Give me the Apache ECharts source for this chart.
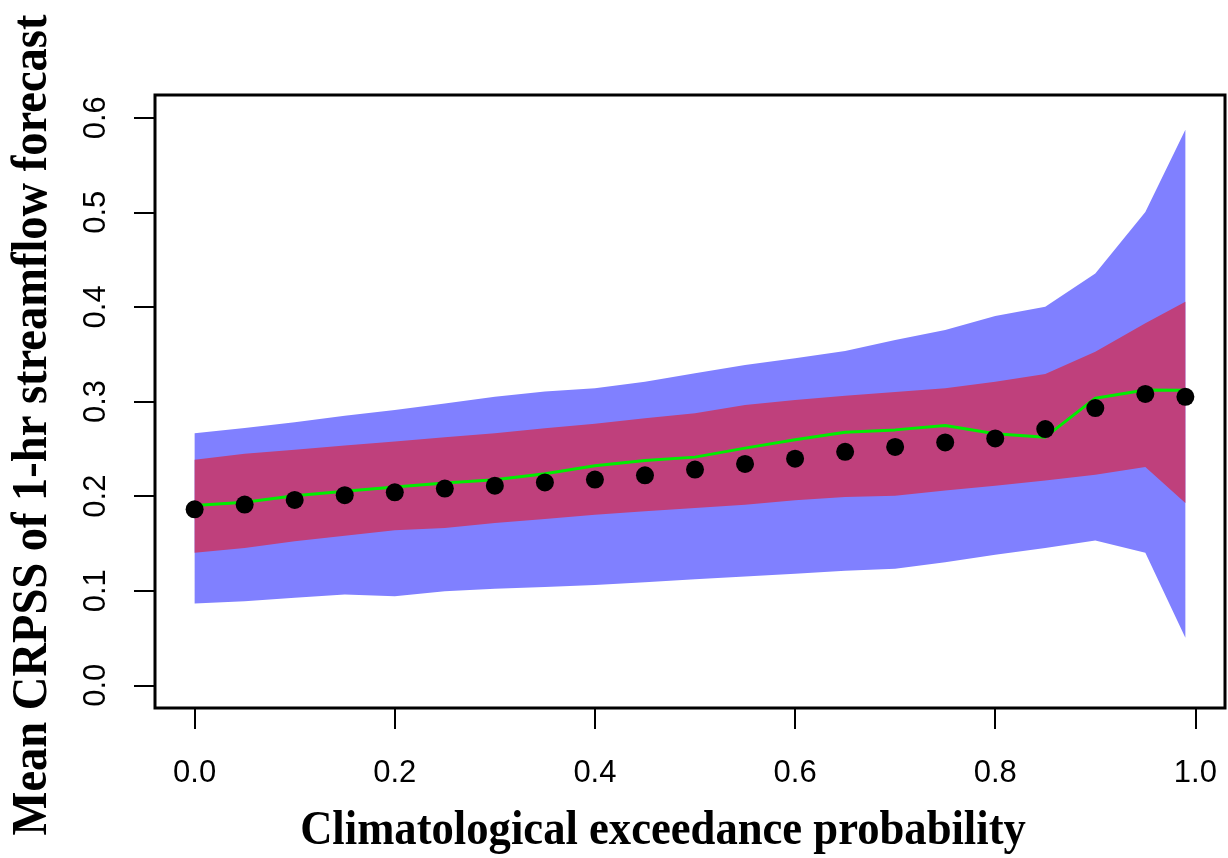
<!DOCTYPE html>
<html>
<head>
<meta charset="utf-8">
<script src="https://cdn.jsdelivr.net/npm/echarts@6/dist/echarts.min.js"></script>
<style>
  html, body { margin: 0; padding: 0; background: #fff; }
  #chart { width: 1228px; height: 858px; }
</style>
</head>
<body>
<div id="chart"></div>
<script>
// Climatological exceedance probabilities (x positions of each summary point)
const exceedance = [0, 0.05, 0.1, 0.15, 0.2, 0.25, 0.3, 0.35, 0.4, 0.45, 0.5,
                    0.55, 0.6, 0.65, 0.7, 0.75, 0.8, 0.85, 0.9, 0.95, 0.99];
// Mean CRPSS (black dots)
const meanCrpss = [0.186, 0.191, 0.196, 0.201, 0.204, 0.208, 0.211, 0.2145, 0.2175, 0.222, 0.228,
                   0.234, 0.2395, 0.2468, 0.252, 0.2567, 0.261, 0.2708, 0.293, 0.308, 0.305];
// Reference curve (green line)
const refCrpss = [0.190, 0.1934, 0.2004, 0.205, 0.2096, 0.2138, 0.2173, 0.2236, 0.232, 0.2377, 0.2412,
                  0.2507, 0.2595, 0.2676, 0.270, 0.2746, 0.2658, 0.2623, 0.3035, 0.3122, 0.312];
// Outer uncertainty band (blue)
const outerUpper = [0.2665, 0.272, 0.278, 0.285, 0.291, 0.298, 0.305, 0.3105, 0.314, 0.321, 0.3298,
                    0.3386, 0.3457, 0.3534, 0.365, 0.3755, 0.3903, 0.4001, 0.4353, 0.5003, 0.5872];
const outerLower = [0.0865, 0.0889, 0.0925, 0.096, 0.0942, 0.0995, 0.102, 0.104, 0.106, 0.109, 0.112,
                    0.115, 0.118, 0.121, 0.1231, 0.130, 0.138, 0.1452, 0.153, 0.140, 0.0503];
// Inner uncertainty band (red)
const innerUpper = [0.2384, 0.2447, 0.249, 0.2535, 0.2577, 0.2623, 0.2665, 0.2718, 0.2764, 0.2824, 0.2876,
                    0.2964, 0.3017, 0.306, 0.310, 0.314, 0.321, 0.329, 0.3527, 0.3826, 0.4054];
const innerLower = [0.140, 0.1452, 0.1522, 0.1582, 0.1638, 0.1663, 0.1716, 0.1758, 0.1804, 0.1839, 0.1874,
                    0.1909, 0.1955, 0.199, 0.2004, 0.206, 0.211, 0.2166, 0.2226, 0.2307, 0.1927];
// Tick positions
const xTicks = [0, 0.2, 0.4, 0.6, 0.8, 1.0];
const yTicks = [0, 0.1, 0.2, 0.3, 0.4, 0.5, 0.6];

const xTitle = 'Climatological exceedance probability';
const yTitle = 'Mean CRPSS of 1-hr streamflow forecast';

// Band rows: [x, lower, upper]
function bandRows(lower, upper) {
  return exceedance.map((x, i) => [x, lower[i], upper[i]]);
}

// Draws a filled band polygon through the axis scales
function bandSeries(name, lower, upper, color) {
  return {
    name: name,
    type: 'custom',
    coordinateSystem: 'cartesian2d',
    data: bandRows(lower, upper),
    encode: { x: 0, y: [1, 2] },
    silent: true,
    renderItem: function (params, api) {
      if (params.dataIndex !== 0) return null;
      const top = [], bottom = [];
      for (let i = 0; i < exceedance.length; i++) {
        top.push(api.coord([exceedance[i], upper[i]]));
        bottom.push(api.coord([exceedance[i], lower[i]]));
      }
      const pts = top.concat(bottom.reverse());
      return {
        type: 'polygon',
        shape: { points: pts },
        style: { fill: color, stroke: null }
      };
    }
  };
}

const chart = echarts.init(document.getElementById('chart'), null, { renderer: 'canvas' });

const tickFont = { fontFamily: 'Liberation Sans', fontSize: 31, color: '#000' };

chart.setOption({
  animation: false,
  backgroundColor: '#fff',
  grid: {
    left: 155, right: 3, top: 95, bottom: 150,
    show: true, borderColor: '#000', borderWidth: 3, backgroundColor: 'transparent'
  },
  xAxis: {
    type: 'value',
    min: -0.0396, max: 1.0296,
    splitLine: { show: false },
    axisLine: { show: false, onZero: false },
    axisTick: { show: true, inside: false, length: 21, customValues: xTicks,
                lineStyle: { color: '#000', width: 2 } },
    axisLabel: { show: true, customValues: xTicks, margin: 50,
                 formatter: v => v.toFixed(1), ...tickFont }
  },
  yAxis: {
    type: 'value',
    min: -0.024, max: 0.624,
    splitLine: { show: false },
    axisLine: { show: false, onZero: false },
    axisTick: { show: true, inside: false, length: 21, customValues: yTicks,
                lineStyle: { color: '#000', width: 2 } },
    axisLabel: { show: true, customValues: yTicks, margin: 43, rotate: 90,
                 formatter: v => v.toFixed(1), ...tickFont }
  },
  graphic: [
    {
      type: 'text',
      x: 663, y: 832, scaleX: 0.93,
      style: {
        text: xTitle, fontFamily: 'Liberation Serif', fontWeight: 'bold',
        fontSize: 48, fill: '#000', align: 'center', verticalAlign: 'middle'
      }
    },
    {
      type: 'text',
      x: 33, y: 425, rotation: Math.PI / 2, scaleX: 0.93,
      style: {
        text: yTitle, fontFamily: 'Liberation Serif', fontWeight: 'bold',
        fontSize: 50, fill: '#000', align: 'center', verticalAlign: 'middle'
      }
    }
  ],
  series: [
    bandSeries('outer', outerLower, outerUpper, '#8080FF'),
    bandSeries('inner', innerLower, innerUpper, '#BF407C'),
    {
      name: 'reference', type: 'line',
      data: exceedance.map((x, i) => [x, refCrpss[i]]),
      showSymbol: false, symbol: 'none',
      lineStyle: { color: '#00EE00', width: 3 },
      z: 3
    },
    {
      name: 'mean', type: 'scatter',
      data: exceedance.map((x, i) => [x, meanCrpss[i]]),
      symbol: 'circle', symbolSize: 18,
      itemStyle: { color: '#000', opacity: 1 },
      z: 4
    }
  ]
});
</script>
</body>
</html>
